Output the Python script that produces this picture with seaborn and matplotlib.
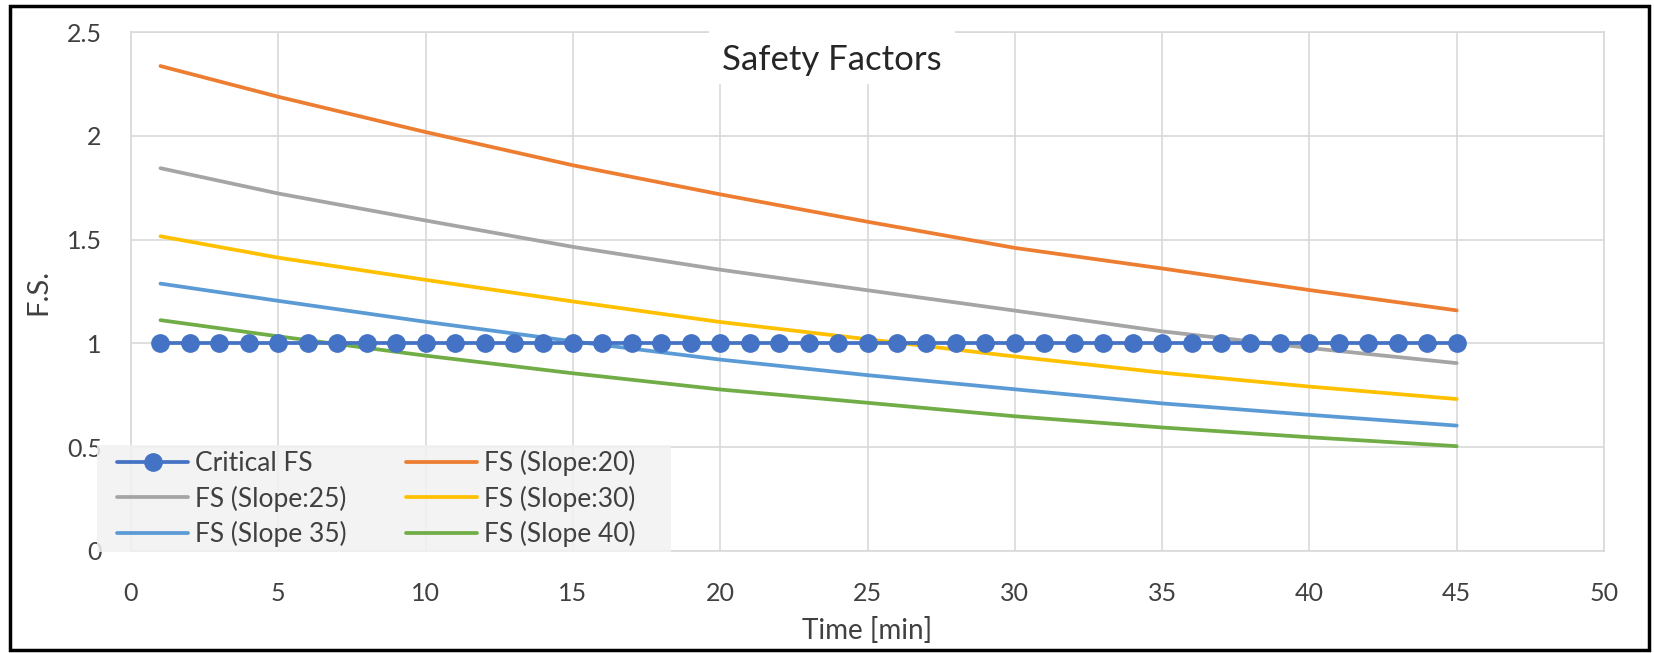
import matplotlib
matplotlib.use("Agg")
import matplotlib.pyplot as plt
import seaborn as sns
import pandas as pd
from matplotlib.patches import Rectangle
from matplotlib.lines import Line2D

# ---- data ----
critical_time = list(range(1, 46))
critical_fs = [1.0] * 45

time_pts = [1, 5, 10, 15, 20, 25, 30, 35, 40, 45]
fs_slope20 = [2.336, 2.188, 2.018, 1.858, 1.718, 1.586, 1.460, 1.361, 1.257, 1.159]
fs_slope25 = [1.844, 1.722, 1.592, 1.465, 1.355, 1.256, 1.158, 1.058, 0.978, 0.905]
fs_slope30 = [1.516, 1.413, 1.306, 1.202, 1.103, 1.020, 0.937, 0.859, 0.792, 0.732]
fs_slope35 = [1.288, 1.205, 1.104, 1.010, 0.922, 0.847, 0.779, 0.711, 0.656, 0.604]
fs_slope40 = [1.112, 1.034, 0.941, 0.856, 0.778, 0.714, 0.649, 0.595, 0.548, 0.505]

series_names = ["FS (Slope:20)", "FS (Slope:25)", "FS (Slope:30)", "FS (Slope 35)", "FS (Slope 40)"]
series_values = [fs_slope20, fs_slope25, fs_slope30, fs_slope35, fs_slope40]
series_colors = ["#ED7D31", "#A5A5A5", "#FFC000", "#5B9BD5", "#70AD47"]
critical_name = "Critical FS"
critical_color = "#4472C4"

x_ticks = [0, 5, 10, 15, 20, 25, 30, 35, 40, 45, 50]
y_ticks = [0, 0.5, 1, 1.5, 2, 2.5]
y_tick_labels = ["0", "0.5", "1", "1.5", "2", "2.5"]

# ---- build long table ----
rows = []
for name, vals in zip(series_names, series_values):
    for t, v in zip(time_pts, vals):
        rows.append({"Time": t, "FS": v, "Series": name})
df = pd.DataFrame(rows)
crit_df = pd.DataFrame({"Time": critical_time, "FS": critical_fs})

sns.set_theme(style="white")
plt.rcParams["font.family"] = ["Lato", "DejaVu Sans"]

W, H = 1654, 653
fig = plt.figure(figsize=(W / 100, H / 100), dpi=100)
ax = fig.add_axes([131 / W, 1 - 551 / H, (1604 - 131) / W, (551 - 32) / H])

LW = 2.7
MS = 13.5
sns.lineplot(data=df, x="Time", y="FS", hue="Series", hue_order=series_names,
             palette=series_colors, linewidth=LW, ax=ax, legend=False, zorder=3)
sns.lineplot(data=crit_df, x="Time", y="FS", color=critical_color, linewidth=LW,
             marker="o", markersize=MS, markeredgewidth=0, ax=ax, legend=False, zorder=4)

ax.set_xlim(0, 50)
ax.set_ylim(0, 2.5)
ax.set_xticks(x_ticks)
ax.set_yticks(y_ticks)
ax.set_yticklabels(y_tick_labels)
ax.grid(True, color="#d9d9d9", linewidth=1.2, zorder=0)
ax.set_axisbelow(True)
for s in ax.spines.values():
    s.set_color("#d9d9d9")
    s.set_linewidth(1.2)
txt_color = "#404040"
ax.tick_params(axis="both", length=0, labelsize=18, colors=txt_color)
ax.tick_params(axis="y", pad=21)
ax.tick_params(axis="x", pad=22)
ax.set_xlabel("Time [min]", fontsize=20, color=txt_color)
ax.set_ylabel("F.S.", fontsize=21, color=txt_color)
ax.xaxis.set_label_coords(0.5, (551 - 617) / 519)
ax.yaxis.set_label_coords((51 - 131) / 1473, 0.5)

# title with white box over the grid
fig.patches.append(Rectangle((709 / W, 1 - 84 / H), 246 / W, 58 / H, transform=fig.transFigure,
                             facecolor="white", edgecolor="none", zorder=1))
fig.text(832 / W, 1 - 60 / H, "Safety Factors", ha="center", va="center", fontsize=25,
         color="#262626", zorder=3)

# legend: semi-transparent grey panel + frameless figure legend
fig.patches.append(Rectangle((97 / W, 1 - 552 / H), (671 - 97) / W, (552 - 445) / H,
                             transform=fig.transFigure, facecolor="#f2f2f2", alpha=0.85,
                             edgecolor="none", zorder=1))
h_crit = Line2D([], [], color=critical_color, linewidth=LW, marker="o", markersize=MS, markeredgewidth=0)
hs = [Line2D([], [], color=c, linewidth=LW) for c in series_colors]
handles = [h_crit, hs[1], hs[3], hs[0], hs[2], hs[4]]
labels = [critical_name, series_names[1], series_names[3], series_names[0], series_names[2], series_names[4]]
leg = fig.legend(handles, labels, ncol=2, loc="center left",
                 bbox_to_anchor=(117 / W, 1 - 498.5 / H), bbox_transform=fig.transFigure,
                 fontsize=19, frameon=False, borderpad=0, labelspacing=0.36,
                 handlelength=2.7, handletextpad=0.25, columnspacing=2.25, borderaxespad=0)
leg.set_zorder(4)
for t in leg.get_texts():
    t.set_color(txt_color)

# outer black frame
fig.patches.append(Rectangle((0.006, 0.004), 0.991, 0.987, transform=fig.transFigure,
                             fill=False, edgecolor="black", linewidth=2.5, zorder=6))

fig.savefig("out.png", dpi=100, facecolor="white")
